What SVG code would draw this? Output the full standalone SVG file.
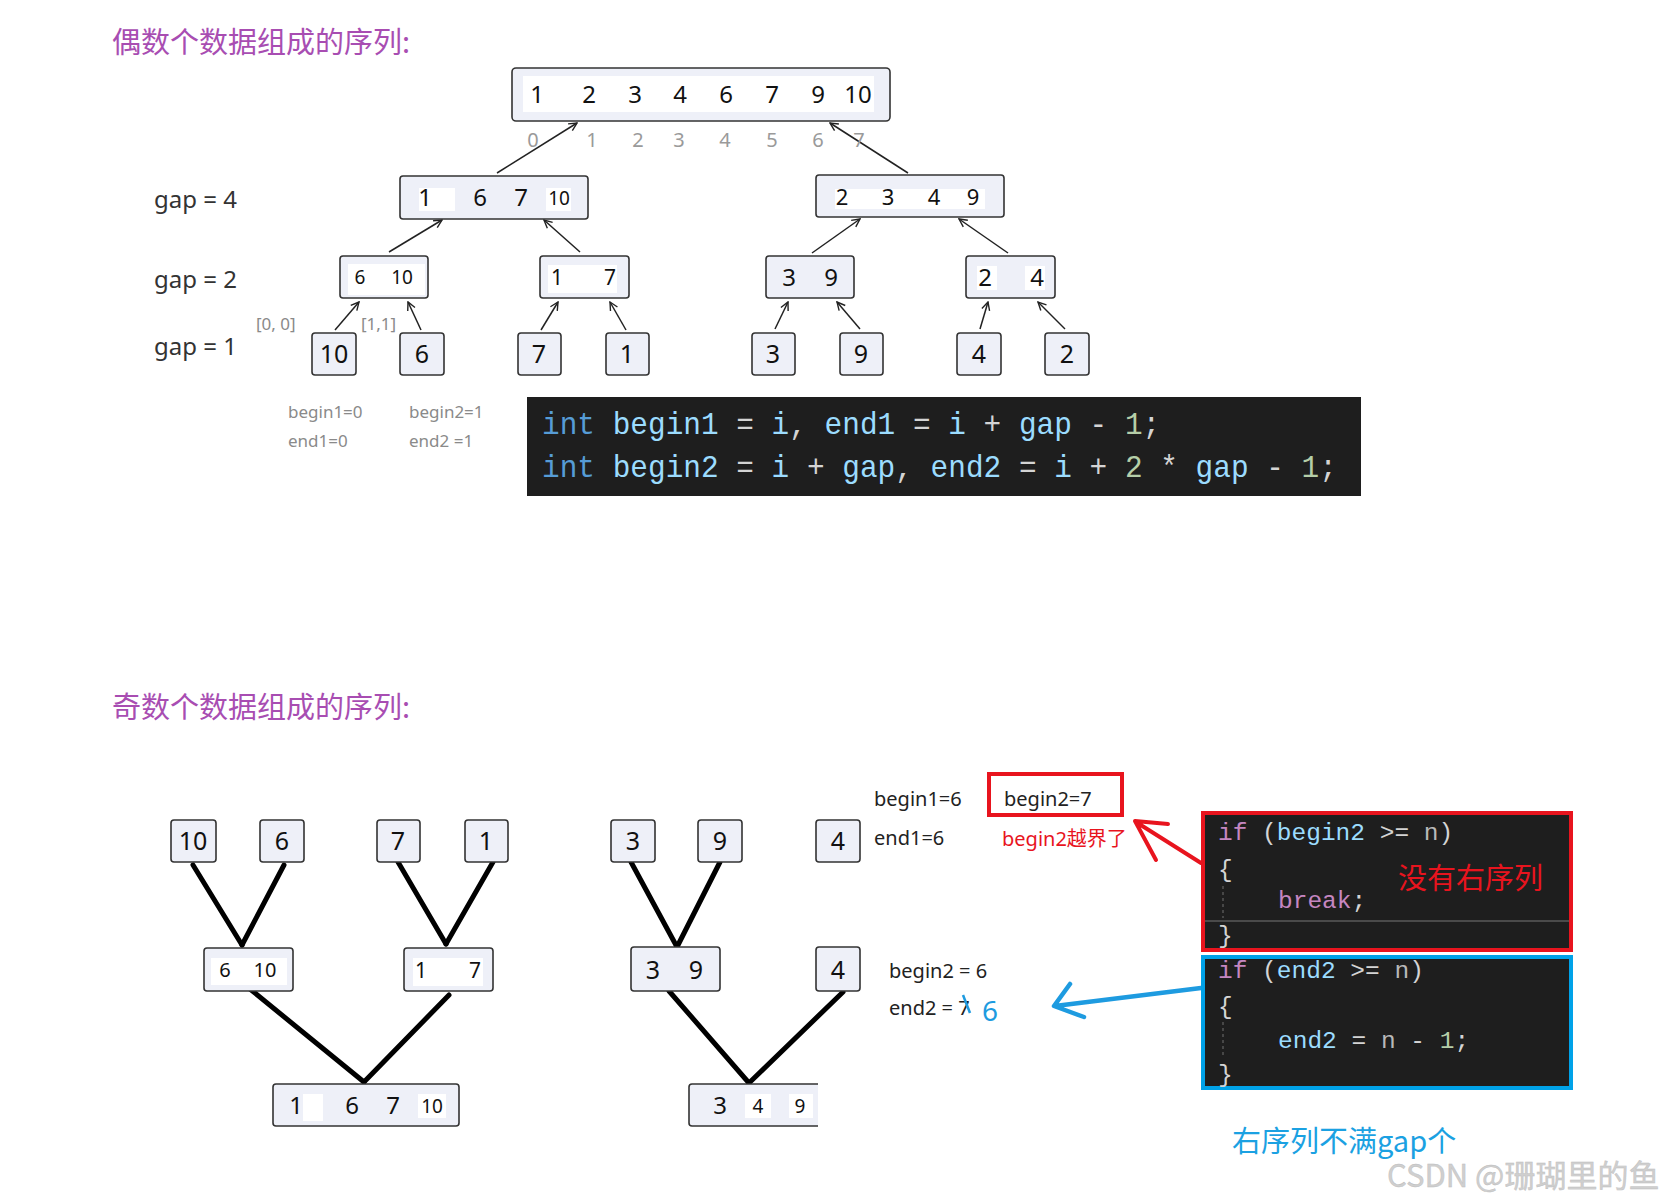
<svg xmlns="http://www.w3.org/2000/svg" width="1674" height="1202" viewBox="0 0 1674 1202">
<style>
.bg{fill:#ffffff}
.box{fill:#eef0f8;stroke:#333;stroke-width:1.6}
.wh{fill:#ffffff}
.num{font-family:"Noto Sans","Open Sans",sans-serif;fill:#111;text-anchor:middle}
.idx{font-family:"Noto Sans","Open Sans",sans-serif;fill:#9a9a9a;font-size:20px;text-anchor:middle}
.lbl{font-family:"Noto Sans","Open Sans",sans-serif;fill:#333;font-size:24px}
.gray{font-family:"Noto Sans","Open Sans",sans-serif;fill:#8a8a8a;font-size:17px}
.blk{font-family:"Noto Sans","Open Sans",sans-serif;fill:#222;font-size:20px}
.title{font-family:"Noto Sans CJK SC",sans-serif;fill:#a84db2;font-size:29px}
.arr{stroke:#222;stroke-width:1.5;fill:none;marker-end:url(#ah)}
.thick{stroke:#000;stroke-width:5;stroke-linecap:round;fill:none}
.code{font-family:"Liberation Mono","DejaVu Sans Mono",monospace;fill:#d4d4d4}
.k{fill:#569cd6}.v{fill:#9cdcfe}.n{fill:#b5cea8}.c{fill:#c586c0}.g{fill:#b8b8b8}
</style>
<defs>
<marker id="ah" viewBox="0 0 10 10" refX="9" refY="5" markerWidth="10" markerHeight="10" markerUnits="userSpaceOnUse" orient="auto"><path d="M1,1 L9,5 L1,9" fill="none" stroke="#222" stroke-width="1.4"/></marker>
</defs>
<rect class="bg" x="0" y="0" width="1674" height="1202"/>

<text id="title1" class="title" x="112" y="53">偶数个数据组成的序列:</text>
<text id="title2" class="title" x="112" y="718">奇数个数据组成的序列:</text>

<g id="gap-labels">
<text class="lbl" x="154" y="208">gap = 4</text>
<text class="lbl" x="154" y="288">gap = 2</text>
<text class="lbl" x="154" y="355">gap = 1</text>
</g>

<g id="connectors">
<line class="arr" x1="497" y1="173" x2="577" y2="123"/>
<line class="arr" x1="908" y1="173" x2="830" y2="123"/>
<line class="arr" x1="389" y1="252" x2="442" y2="220"/>
<line class="arr" x1="580" y1="252" x2="544" y2="220"/>
<line class="arr" x1="812" y1="253" x2="860" y2="219"/>
<line class="arr" x1="1008" y1="253" x2="959" y2="219"/>
<line class="arr" x1="335" y1="330" x2="359" y2="302"/>
<line class="arr" x1="421" y1="330" x2="408" y2="302"/>
<line class="arr" x1="541" y1="330" x2="558" y2="302"/>
<line class="arr" x1="626" y1="330" x2="610" y2="302"/>
<line class="arr" x1="775" y1="329" x2="788" y2="302"/>
<line class="arr" x1="860" y1="329" x2="837" y2="302"/>
<line class="arr" x1="980" y1="329" x2="988" y2="302"/>
<line class="arr" x1="1065" y1="329" x2="1038" y2="302"/>
<line class="thick" x1="193" y1="865" x2="242" y2="945"/>
<line class="thick" x1="284" y1="865" x2="242" y2="945"/>
<line class="thick" x1="398" y1="862" x2="446" y2="944"/>
<line class="thick" x1="493" y1="862" x2="446" y2="944"/>
<line class="thick" x1="631" y1="862" x2="677" y2="947"/>
<line class="thick" x1="720" y1="862" x2="677" y2="947"/>
<line class="thick" x1="250" y1="989" x2="364" y2="1082"/>
<line class="thick" x1="449" y1="995" x2="364" y2="1082"/>
<line class="thick" x1="669" y1="991" x2="749" y2="1083"/>
<line class="thick" x1="843" y1="992" x2="749" y2="1083"/>
<path d="M1201,863 L1136,822 M1168,824 L1135,821 L1156,860" fill="none" stroke="#e8141e" stroke-width="4" stroke-linecap="round" stroke-linejoin="round"/>
<path d="M1201,988 L1055,1006 M1070,984 L1054,1006 L1084,1017" fill="none" stroke="#1e9be0" stroke-width="4.5" stroke-linecap="round" stroke-linejoin="round"/>
</g>

<g id="n-root">
<rect class="box" x="512" y="68" width="378" height="53" rx="4"/>
<rect class="wh" x="523" y="76" width="351" height="36"/>
<text class="num" font-size="24" y="103"><tspan x="537">1</tspan><tspan x="589">2</tspan><tspan x="635">3</tspan><tspan x="680">4</tspan><tspan x="726">6</tspan><tspan x="772">7</tspan><tspan x="818">9</tspan><tspan x="858">10</tspan></text>
<text class="idx" y="147"><tspan x="533">0</tspan><tspan x="592">1</tspan><tspan x="638">2</tspan><tspan x="679">3</tspan><tspan x="725">4</tspan><tspan x="772">5</tspan><tspan x="818">6</tspan><tspan x="859">7</tspan></text>
</g>
<g id="n-g4-left">
<rect class="box" x="400" y="176" width="188" height="43" rx="3"/>
<rect class="wh" x="419" y="188" width="36" height="23"/>
<rect class="wh" x="546" y="188" width="25" height="23"/>
<text class="num" font-size="24" y="206"><tspan x="425">1</tspan><tspan x="480">6</tspan><tspan x="521">7</tspan></text>
<text class="num" font-size="19" x="559" y="205">10</text>
</g>
<g id="n-g4-right">
<rect class="box" x="816" y="175" width="188" height="42" rx="3"/>
<rect class="wh" x="835" y="189" width="150" height="20"/>
<text class="num" font-size="22" y="205"><tspan x="842">2</tspan><tspan x="888">3</tspan><tspan x="934">4</tspan><tspan x="973">9</tspan></text>
</g>
<g id="n-g2-a">
<rect class="box" x="340" y="256" width="88" height="42" rx="3"/>
<rect class="wh" x="348" y="264" width="77" height="31"/>
<text class="num" font-size="19" y="284"><tspan x="360">6</tspan><tspan x="402">10</tspan></text>
</g>
<g id="n-g2-b">
<rect class="box" x="540" y="256" width="89" height="42" rx="3"/>
<rect class="wh" x="548" y="265" width="69" height="28"/>
<text class="num" font-size="21" y="285"><tspan x="557">1</tspan><tspan x="610">7</tspan></text>
</g>
<g id="n-g2-c">
<rect class="box" x="766" y="256" width="88" height="42" rx="3"/>
<text class="num" font-size="24" y="286"><tspan x="789">3</tspan><tspan x="831">9</tspan></text>
</g>
<g id="n-g2-d">
<rect class="box" x="966" y="256" width="89" height="42" rx="3"/>
<rect class="wh" x="977" y="266" width="20" height="24"/>
<rect class="wh" x="1025" y="266" width="20" height="24"/>
<text class="num" font-size="24" y="286"><tspan x="985">2</tspan><tspan x="1037">4</tspan></text>
</g>
<g id="leaf-10"><rect class="box" x="312" y="333" width="44" height="42" rx="3"/><text class="num" font-size="25" x="334" y="363">10</text></g>
<g id="leaf-6"><rect class="box" x="400" y="333" width="44" height="42" rx="3"/><text class="num" font-size="25" x="422" y="363">6</text></g>
<g id="leaf-7"><rect class="box" x="518" y="333" width="43" height="42" rx="3"/><text class="num" font-size="25" x="539" y="363">7</text></g>
<g id="leaf-1"><rect class="box" x="606" y="333" width="43" height="42" rx="3"/><text class="num" font-size="25" x="627" y="363">1</text></g>
<g id="leaf-3"><rect class="box" x="752" y="333" width="43" height="42" rx="3"/><text class="num" font-size="25" x="773" y="363">3</text></g>
<g id="leaf-9"><rect class="box" x="840" y="333" width="43" height="42" rx="3"/><text class="num" font-size="25" x="861" y="363">9</text></g>
<g id="leaf-4"><rect class="box" x="957" y="333" width="44" height="42" rx="3"/><text class="num" font-size="25" x="979" y="363">4</text></g>
<g id="leaf-2"><rect class="box" x="1045" y="333" width="44" height="42" rx="3"/><text class="num" font-size="25" x="1067" y="363">2</text></g>

<g id="range-labels">
<text class="gray" font-size="18" x="256" y="330">[0, 0]</text>
<text class="gray" font-size="18" x="361" y="330">[1,1]</text>
<text class="gray" x="288" y="418">begin1=0</text>
<text class="gray" x="288" y="447">end1=0</text>
<text class="gray" x="409" y="418">begin2=1</text>
<text class="gray" x="409" y="447">end2 =1</text>
</g>

<g id="code-top">
<rect x="527" y="397" width="834" height="99" fill="#1e1e1e"/>
<text class="code" font-size="32" transform="translate(542,434) scale(0.92,1)"><tspan class="k">int</tspan> <tspan class="v">begin1</tspan> = <tspan class="v">i</tspan>, <tspan class="v">end1</tspan> = <tspan class="v">i</tspan> + <tspan class="v">gap</tspan> - <tspan class="n">1</tspan>;</text>
<text class="code" font-size="32" transform="translate(542,477) scale(0.92,1)"><tspan class="k">int</tspan> <tspan class="v">begin2</tspan> = <tspan class="v">i</tspan> + <tspan class="v">gap</tspan>, <tspan class="v">end2</tspan> = <tspan class="v">i</tspan> + <tspan class="n">2</tspan> * <tspan class="v">gap</tspan> - <tspan class="n">1</tspan>;</text>
</g>

<g id="b-leaf-10"><rect class="box" x="171" y="820" width="45" height="42" rx="3"/><text class="num" font-size="25" x="193" y="850">10</text></g>
<g id="b-leaf-6"><rect class="box" x="260" y="820" width="44" height="42" rx="3"/><text class="num" font-size="25" x="282" y="850">6</text></g>
<g id="b-leaf-7"><rect class="box" x="377" y="820" width="43" height="42" rx="3"/><text class="num" font-size="25" x="398" y="850">7</text></g>
<g id="b-leaf-1"><rect class="box" x="465" y="820" width="43" height="42" rx="3"/><text class="num" font-size="25" x="486" y="850">1</text></g>
<g id="b-leaf-3"><rect class="box" x="611" y="820" width="44" height="42" rx="3"/><text class="num" font-size="25" x="633" y="850">3</text></g>
<g id="b-leaf-9"><rect class="box" x="698" y="820" width="44" height="42" rx="3"/><text class="num" font-size="25" x="720" y="850">9</text></g>
<g id="b-leaf-4"><rect class="box" x="816" y="820" width="44" height="42" rx="3"/><text class="num" font-size="25" x="838" y="850">4</text></g>

<g id="b-mid-a">
<rect class="box" x="204" y="948" width="89" height="43" rx="3"/>
<rect class="wh" x="211" y="958" width="76" height="27"/>
<text class="num" font-size="20" y="977"><tspan x="225">6</tspan><tspan x="265">10</tspan></text>
</g>
<g id="b-mid-b">
<rect class="box" x="404" y="948" width="89" height="43" rx="3"/>
<rect class="wh" x="413" y="958" width="70" height="28"/>
<text class="num" font-size="21" y="978"><tspan x="421">1</tspan><tspan x="475">7</tspan></text>
</g>
<g id="b-mid-c">
<rect class="box" x="631" y="947" width="89" height="44" rx="3"/>
<text class="num" font-size="25" y="979"><tspan x="653">3</tspan><tspan x="696">9</tspan></text>
</g>
<g id="b-mid-d">
<rect class="box" x="816" y="947" width="44" height="44" rx="3"/>
<text class="num" font-size="25" x="838" y="979">4</text>
</g>
<g id="b-root-a">
<rect class="box" x="273" y="1084" width="186" height="42" rx="3"/>
<rect class="wh" x="303" y="1094" width="20" height="27"/>
<rect class="wh" x="418" y="1094" width="28" height="24"/>
<text class="num" font-size="24" y="1114"><tspan x="296">1</tspan><tspan x="352">6</tspan><tspan x="393">7</tspan></text>
<text class="num" font-size="19" x="432" y="1113">10</text>
</g>
<g id="b-root-b">
<path class="box" d="M818,1084 L692,1084 Q689,1084 689,1087 L689,1123 Q689,1126 692,1126 L818,1126"/>
<rect class="wh" x="745" y="1094" width="26" height="24"/>
<rect class="wh" x="789" y="1094" width="24" height="24"/>
<text class="num" font-size="24" x="720" y="1114">3</text>
<text class="num" font-size="19" y="1113"><tspan x="758">4</tspan><tspan x="800">9</tspan></text>
</g>

<g id="annot-right">
<text class="blk" font-size="21" x="874" y="806">begin1=6</text>
<text class="blk" font-size="21" x="874" y="845">end1=6</text>
<rect x="989" y="774" width="133" height="41" fill="none" stroke="#e8141e" stroke-width="4"/>
<text class="blk" font-size="21" x="1004" y="806">begin2=7</text>
<text font-family="Noto Sans,Noto Sans CJK SC,sans-serif" font-size="20" fill="#e8141e" x="1002" y="846">begin2越界了</text>
<text class="blk" x="889" y="978">begin2 = 6</text>
<text class="blk" x="889" y="1015">end2 = 7</text>
<line x1="963" y1="995" x2="970" y2="1013" stroke="#1e9be0" stroke-width="2.5"/>
<text font-family="Noto Sans,sans-serif" font-size="28" fill="#1e9be0" x="982" y="1021">6</text>
</g>

<g id="code-break">
<rect x="1203" y="813" width="368" height="137" fill="#1e1e1e" stroke="#e8141e" stroke-width="4"/>
<line x1="1205" y1="921" x2="1569" y2="921" stroke="#4a4a4a" stroke-width="2"/>
<line x1="1223" y1="886" x2="1223" y2="918" stroke="#555" stroke-width="1.5" stroke-dasharray="3 3"/>
<text class="code" font-size="24.5" x="1218" y="840"><tspan class="c">if</tspan> (<tspan class="v">begin2</tspan> &gt;= <tspan class="g">n</tspan>)</text>
<text class="code" font-size="24.5" x="1218" y="877">{</text>
<text class="code" font-size="24.5" x="1278" y="908"><tspan class="c">break</tspan>;</text>
<text class="code" font-size="24.5" x="1218" y="943">}</text>
<text font-family="Noto Sans CJK SC,sans-serif" font-size="29" fill="#e8141e" x="1398" y="889">没有右序列</text>
</g>
<g id="code-end2">
<rect x="1203" y="957" width="368" height="131" fill="#1e1e1e" stroke="#00a2e8" stroke-width="4"/>
<line x1="1223" y1="1022" x2="1223" y2="1058" stroke="#555" stroke-width="1.5" stroke-dasharray="3 3"/>
<text class="code" font-size="24.5" x="1218" y="978"><tspan class="c">if</tspan> (<tspan class="v">end2</tspan> &gt;= <tspan class="g">n</tspan>)</text>
<text class="code" font-size="24.5" x="1218" y="1014">{</text>
<text class="code" font-size="24.5" x="1278" y="1048"><tspan class="v">end2</tspan> = <tspan class="g">n</tspan> - <tspan class="n">1</tspan>;</text>
<text class="code" font-size="24.5" x="1218" y="1082">}</text>
</g>

<text id="note-blue" font-family="Noto Sans CJK SC,sans-serif" font-size="29" fill="#1ba1e2" x="1232" y="1152">右序列不满gap个</text>
<text id="watermark" font-family="Noto Sans CJK SC,sans-serif" font-size="31" fill="#cfcfcf" stroke="#bdbdbd" stroke-width="0.4" x="1387" y="1187">CSDN @珊瑚里的鱼</text>
</svg>
